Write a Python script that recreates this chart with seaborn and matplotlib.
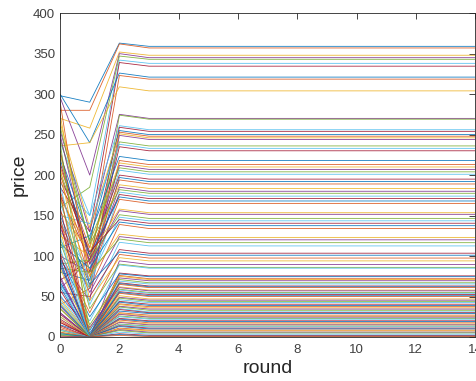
import pandas as pd
import matplotlib
matplotlib.use("Agg")
import matplotlib.pyplot as plt
import seaborn as sns

# price of each line at round 0, 1, 2 and 3 (flat after round 3)
start_price = [
    298, 280, 270, 296, 160, 240, 185, 300, 210, 236,
    255, 120, 190, 175, 225, 140, 265, 95, 205, 150,
    230, 110, 290, 170, 60, 245, 130, 215, 80, 195,
    155, 100, 260, 145, 70, 220, 180, 125, 250, 90,
    165, 200, 115, 40, 275, 135, 85, 188, 55, 150,
    105, 228, 30, 172, 65, 142, 98, 20, 210, 75,
    118, 45, 160, 88, 12, 132, 50, 240, 25, 102,
    68, 178, 35, 92, 8, 125, 58, 15, 148, 42,
    72, 5, 110, 28, 62, 18, 85, 38, 3, 52,
    22, 95, 10, 48, 30, 2, 66, 14, 40, 6,
    25, 1, 35, 9, 18, 4, 0,
]
round1_price = [
    290, 280, 258, 200, 185, 150, 130, 240, 110, 240,
    130, 60, 150, 95, 120, 70, 135, 45, 100, 140,
    80, 125, 60, 110, 95, 118, 85, 100, 70, 90,
    105, 80, 115, 60, 95, 100, 75, 100, 90, 95,
    70, 105, 85, 60, 75, 55, 80, 40, 50, 65,
    30, 45, 0, 35, 20, 0, 25, 0, 10, 0,
    15, 0, 0, 8, 0, 0, 12, 0, 0, 0,
    5, 0, 0, 0, 0, 0, 0, 3, 0, 0,
    0, 0, 0, 0, 0, 0, 0, 0, 0, 0,
    0, 0, 0, 0, 0, 0, 0, 0, 0, 0,
    0, 0, 0, 0, 0, 0, 0,
]
round2_price = [
    363, 362, 352, 350, 347, 342, 339, 326, 323, 309,
    275, 274, 261, 259, 255, 253, 251, 249, 241, 238,
    235, 223, 218, 215, 212, 209, 206, 200, 197, 194,
    188, 185, 182, 179, 176, 173, 170, 158, 156, 151,
    148, 145, 142, 139, 127, 124, 121, 117, 108, 105,
    102, 98, 94, 90, 89, 79, 78, 76, 75, 73,
    71, 69, 67, 66, 65, 62, 61, 59, 58, 56,
    55, 54, 51, 49, 48, 46, 44, 43, 41, 40,
    38, 37, 35, 34, 32, 30, 29, 28, 26, 25,
    23, 22, 21, 19, 18, 16, 15, 14, 13, 11,
    10, 9, 8, 6, 4, 3, 2,
]
final_price = [
    359, 357, 348, 345, 343, 338, 334.5, 321, 318.5, 304,
    270, 269, 256, 254, 250, 248, 246, 244, 236, 233,
    230, 218, 213, 210, 207, 204, 201, 195, 192, 189,
    183.5, 180, 177.5, 174, 171, 168, 165, 153.5, 151.5, 146.5,
    143.5, 140.5, 137.5, 134, 123, 120, 116.5, 112.5, 103.5, 101,
    97.5, 94, 89.5, 86, 85, 75.5, 74.5, 72, 71, 69.5,
    67, 65.5, 63, 62, 61, 58, 57, 55, 54, 52.5,
    51, 50, 47, 45.5, 44, 42.5, 40.5, 39, 37.5, 36,
    34.5, 33, 31, 30, 29, 27, 25.5, 24.5, 23, 22,
    20, 19, 17.5, 16, 15, 13.5, 12.5, 11, 10, 8.5,
    7.5, 6, 5, 3.5, 2, 1, 0.5,
]
rounds = list(range(15))

rows = []
for i in range(len(final_price)):
    ys = [start_price[i], round1_price[i], round2_price[i]] + [final_price[i]] * (len(rounds) - 3)
    for r, y in zip(rounds, ys):
        rows.append({"line": i, "round": r, "price": y})
df = pd.DataFrame(rows)

# MATLAB default line colours
matlab_colors = ["#0072BD", "#D95319", "#EDB120", "#7E2F8E",
                 "#77AC30", "#4DBEEE", "#A2142F"]
palette = [matlab_colors[i % 7] for i in range(len(final_price))]

sns.set_style("white")
plt.rcParams['font.family'] = ['Liberation Sans', 'DejaVu Sans']

fig = plt.figure(figsize=(4.77, 3.81), dpi=100)
ax = fig.add_axes([0.126, 0.1155, 0.87, 0.85])
sns.lineplot(data=df, x="round", y="price", hue="line", palette=palette,
             legend=False, linewidth=0.6, alpha=0.9, estimator=None,
             errorbar=None, ax=ax)

ax.set_xlim(0, 14)
ax.set_ylim(0, 400)
ax.set_xticks(range(0, 15, 2))
ax.set_yticks(range(0, 401, 50))
ax.tick_params(direction="in", top=True, right=True, length=4, width=0.6,
               colors="#262626", labelcolor="#404040", labelsize=9.5)
ax.tick_params(axis="x", pad=5)
for s in ax.spines.values():
    s.set_color("#262626")
    s.set_linewidth(0.6)
ax.set_xlabel("round", fontsize=14, color="#262626", labelpad=3)
ax.set_ylabel("price", fontsize=14, color="#262626")

fig.savefig("out.png", dpi=100)
